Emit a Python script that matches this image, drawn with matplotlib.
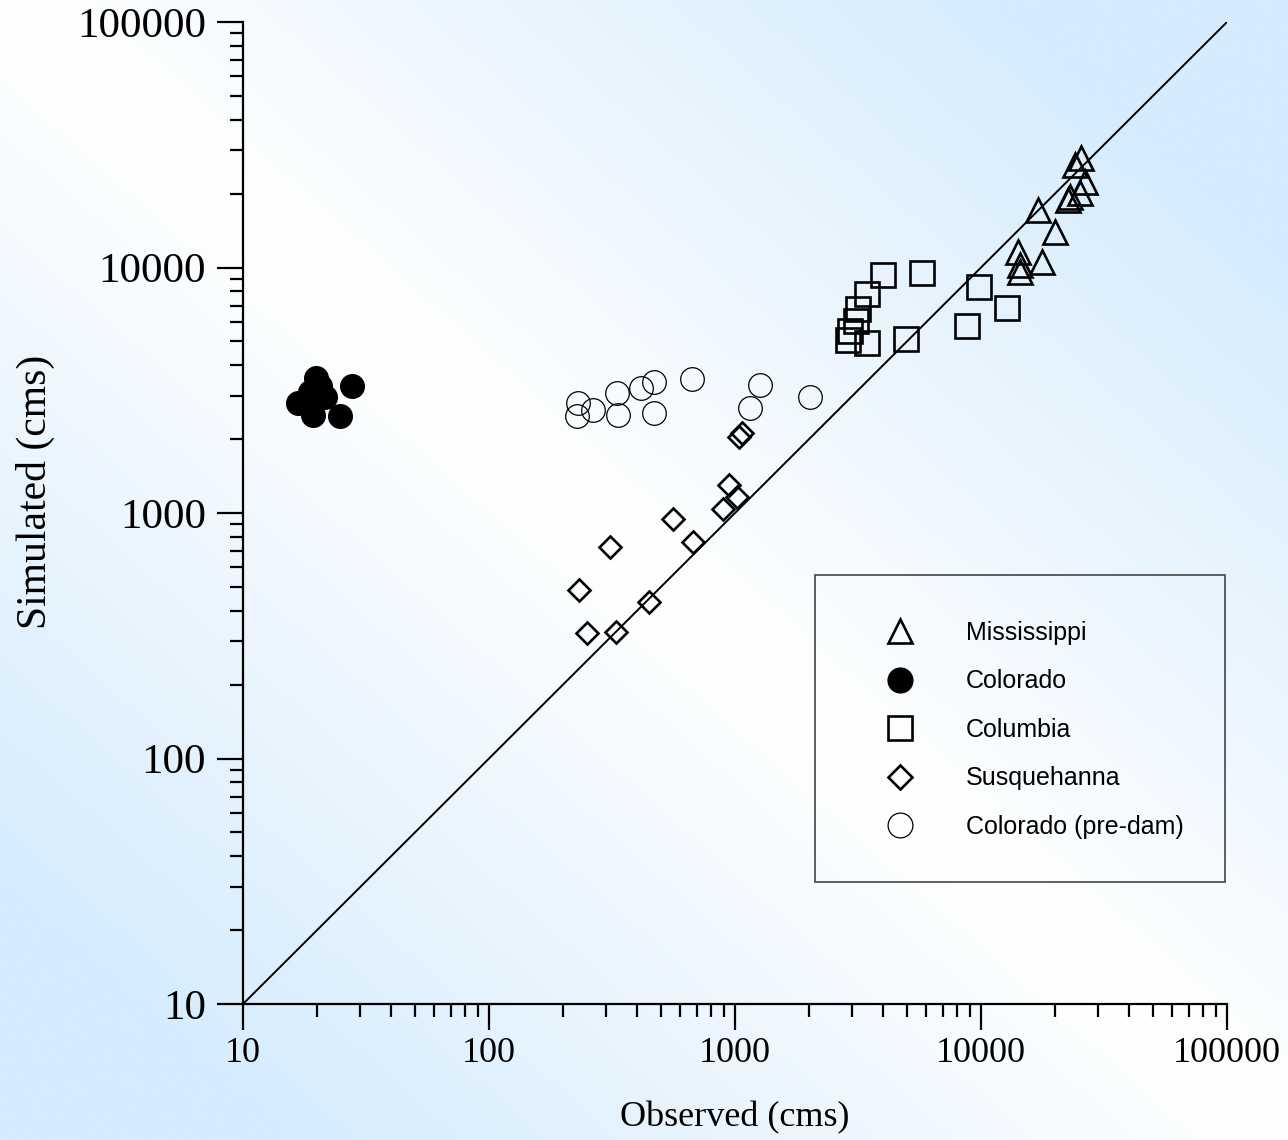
import numpy as np
import matplotlib.pyplot as plt
from matplotlib.patches import Rectangle

# data (observed, simulated) in cms
miss_obs = [25500, 24100, 26470, 25260, 23000, 22580, 17050, 19990, 14130, 14400, 14400, 17700]
miss_sim = [27930, 26160, 22300, 20120, 19370, 18840, 17140, 13950, 11560, 10230, 9590, 10530]

colo_obs = [16.7, 19.8, 19.3, 21.5, 24.8, 27.7, 18.7, 20.5]
colo_sim = [2800, 3550, 2500, 2970, 2490, 3290, 3110, 3300]

colu_obs = [3996, 5755, 3441, 3162, 3105, 2934, 2877, 3441, 4955, 9816, 8770, 12760]
colu_sim = [9322, 9498, 7800, 6776, 6055, 5510, 5067, 4922, 5115, 8330, 5777, 6840]

susq_obs = [1068, 1038, 945, 1019, 894, 560, 675, 310, 232, 447, 250, 328]
susq_sim = [2118, 2040, 1300, 1162, 1038, 945, 762, 727, 485, 434, 325, 328]

pre_obs = [230, 228, 265, 331, 334, 415, 469, 469, 668, 1264, 1151, 2018]
pre_sim = [2806, 2485, 2628, 3083, 2507, 3230, 3418, 2555, 3514, 3321, 2677, 2969]

fig = plt.figure(figsize=(12.88, 11.4), dpi=100)

# background gradient
bg = fig.add_axes([0, 0, 1, 1], zorder=0)
u, v = np.meshgrid(np.linspace(0, 1, 400), np.linspace(0, 1, 400))
t = np.clip(np.abs(u - v) * 1.3, 0, 1)
white = np.array([1.0, 1.0, 1.0])
blue = np.array([214, 236, 253]) / 255
img = white[None, None, :] * (1 - t[..., None]) + blue[None, None, :] * t[..., None]
bg.imshow(img, extent=[0, 1, 0, 1], aspect='auto', origin='upper')
bg.axis('off')

ax = fig.add_axes([243 / 1288, 1 - 1004 / 1140, 984 / 1288, 982 / 1140], zorder=1)
ax.patch.set_alpha(0)

ax.plot([10, 100000], [10, 100000], color='black', lw=1.4, zorder=2)

ms = 17
ax.plot(miss_obs, miss_sim, ls='none', marker='^', ms=ms, mfc='none', mec='black', mew=1.9,
        label='Mississippi', zorder=3)
ax.plot(colo_obs, colo_sim, ls='none', marker='o', ms=ms, mfc='black', mec='black', mew=1,
        label='Colorado', zorder=3)
ax.plot(colu_obs, colu_sim, ls='none', marker='s', ms=ms, mfc='none', mec='black', mew=1.9,
        label='Columbia', zorder=3)
ax.plot(susq_obs, susq_sim, ls='none', marker='D', ms=11.5, mfc='none', mec='black', mew=1.9,
        label='Susquehanna', zorder=3)
ax.plot(pre_obs, pre_sim, ls='none', marker='o', ms=ms, mfc='none', mec='black', mew=0.9,
        label='Colorado (pre-dam)', zorder=3)

ax.set_xscale('log')
ax.set_yscale('log')
ax.set_xlim(10, 100000)
ax.set_ylim(10, 100000)
ax.set_xticks([10, 100, 1000, 10000, 100000])
ax.set_yticks([10, 100, 1000, 10000, 100000])
ax.set_xticklabels(['10', '100', '1000', '10000', '100000'])
ax.set_yticklabels(['10', '100', '1000', '10000', '100000'])

for s in ['top', 'right']:
    ax.spines[s].set_visible(False)
for s in ['left', 'bottom']:
    ax.spines[s].set_linewidth(1.6)

ax.tick_params(which='major', direction='out', length=18.7, width=1.6)
ax.tick_params(which='minor', direction='out', length=9.4, width=1.6)
ax.tick_params(axis='x', which='major', labelsize=26, pad=5)
ax.tick_params(axis='y', which='major', labelsize=31, pad=8)
for lab in ax.get_xticklabels() + ax.get_yticklabels():
    lab.set_fontfamily('Liberation Serif')

fig.text(735 / 1288, 1 - 1118 / 1140, 'Observed (cms)', ha='center', va='center',
         fontsize=26, family='Liberation Serif')
fig.text(35 / 1288, 1 - 492 / 1140, 'Simulated (cms)', ha='center', va='center',
         rotation=90, fontsize=30, family='Liberation Serif')

# legend box
ax.add_patch(Rectangle((572 / 984, 122 / 982), 410 / 984, 307 / 982, transform=ax.transAxes,
                       fill=False, ec='#444444', lw=1.2, zorder=4))
leg = ax.legend(loc='upper left', bbox_to_anchor=(881 / 1288, 1 - 621 / 1140),
                bbox_transform=fig.transFigure, frameon=False, borderpad=0, borderaxespad=0,
                handlelength=1.5, handletextpad=1.9, labelspacing=0.98, markerscale=1.05,
                prop={'family': 'Liberation Sans', 'size': 18})
leg.set_zorder(5)

fig.savefig('out.png', dpi=100)
